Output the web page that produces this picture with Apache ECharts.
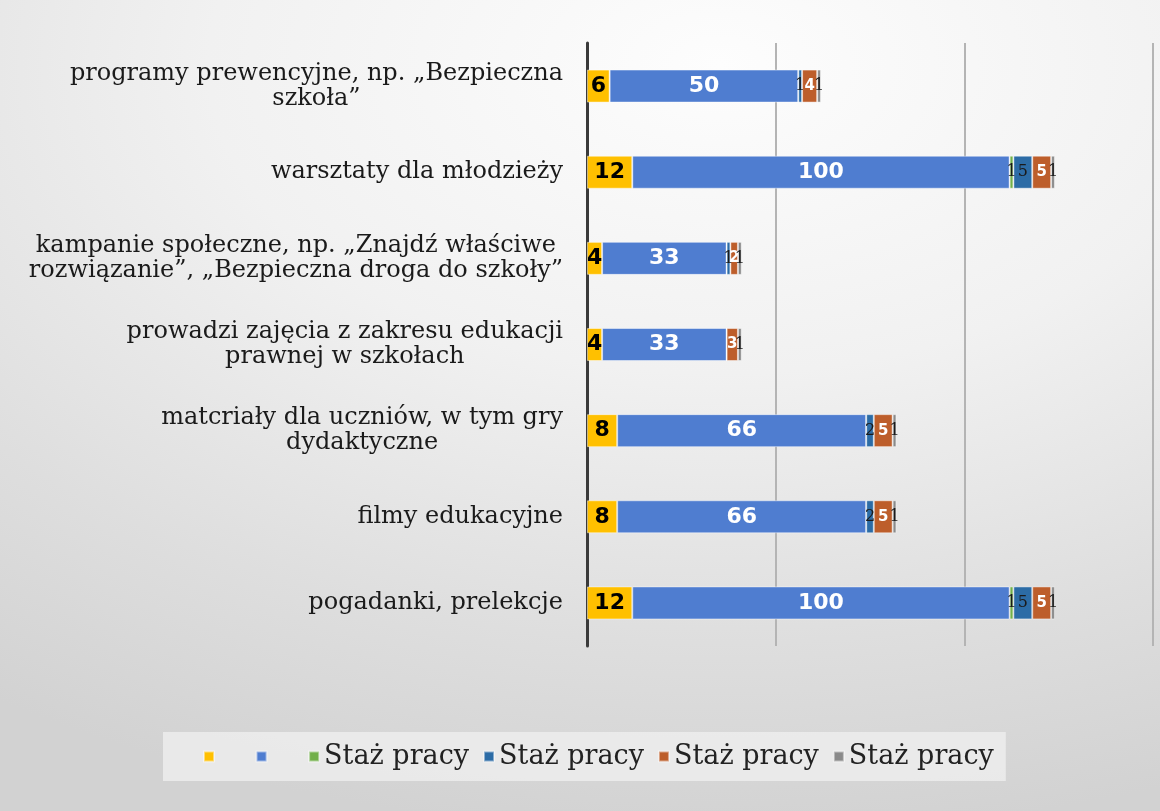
<!DOCTYPE html>
<html>
<head>
<meta charset="utf-8">
<script src="https://cdn.jsdelivr.net/npm/echarts@6/dist/echarts.min.js"></script>
<style>
  html, body { margin: 0; padding: 0; }
  body {
    width: 1160px; height: 811px; overflow: hidden;
    background: radial-gradient(ellipse 110% 95% at 62% 8%, #fdfdfd 0%, #f1f1f1 40%, #dedede 75%, #d2d2d2 100%);
  }
  #chart { width: 1160px; height: 811px; }
</style>
</head>
<body>
<div id="chart"></div>
<script>
  // categories, top to bottom
  const categories = [
    'programy prewencyjne, np. „Bezpieczna\nszkoła”',
    'warsztaty dla młodzieży',
    'kampanie społeczne, np. „Znajdź właściwe\nrozwiązanie”, „Bezpieczna droga do szkoły”',
    'prowadzi zajęcia z zakresu edukacji\nprawnej w szkołach',
    'matcriały dla uczniów, w tym gry\ndydaktyczne',
    'filmy edukacyjne',
    'pogadanki, prelekcje',
  ];

  const yellowValues = [6, 12, 4, 4, 8, 8, 12];
  const blueValues = [50, 100, 33, 33, 66, 66, 100];
  const greenValues = [0, 1, 0, 0, 0, 0, 1];
  const darkBlueValues = [1, 5, 1, 0, 2, 2, 5];
  const orangeValues = [4, 5, 2, 3, 5, 5, 5];
  const grayValues = [1, 1, 1, 1, 1, 1, 1];

  const xTicks = [0, 50, 100, 150];

  const SERIF = '"DejaVu Serif", "Liberation Serif", serif';
  const SANS = '"DejaVu Sans", Verdana, sans-serif';

  function hideZero(p) {
    return p.value ? String(p.value) : '';
  }

  const bigLabel = color => ({
    show: true,
    position: 'inside',
    color: color,
    fontFamily: SANS,
    fontWeight: 'bold',
    fontSize: 22,
    formatter: hideZero,
  });

  const smallLabel = {
    show: true,
    position: 'inside',
    color: '#1a1a1a',
    fontFamily: SERIF,
    fontSize: 16,
    formatter: hideZero,
  };

  const stackDefs = [
    { name: 'a', data: yellowValues, color: '#ffc000', label: bigLabel('#000') },
    { name: 'b', data: blueValues, color: '#4f7dd0', label: bigLabel('#fff') },
    { name: 'c', data: greenValues, color: '#72b04a', label: smallLabel },
    { name: 'd', data: darkBlueValues, color: '#2c6ca6', label: smallLabel },
    {
      name: 'e', data: orangeValues, color: '#bd5e2b',
      label: Object.assign({}, smallLabel, { color: '#fff', fontFamily: SANS, fontWeight: 'bold', fontSize: 15 }),
    },
    { name: 'f', data: grayValues, color: '#8a8a8a', label: smallLabel },
  ];

  // first two legend entries have no visible text in the original, only blank space
  const blank = '  \u2009';
  const legendText = { a: blank, b: blank, c: 'Staż pracy', d: 'Staż pracy', e: 'Staż pracy', f: 'Staż pracy' };

  const chart = echarts.init(document.getElementById('chart'));
  chart.setOption({
    animation: false,
    backgroundColor: 'transparent',
    grid: { left: 587, right: 7, top: 43, bottom: 165, containLabel: false },
    legend: {
      left: 163,
      top: 732,
      padding: [11, 12, 11, 40],
      backgroundColor: 'rgba(240,240,240,0.75)',
      itemWidth: 10,
      itemHeight: 10,
      itemGap: 14,
      icon: 'rect',
      textStyle: { fontFamily: SERIF, fontSize: 27, color: '#222' },
      formatter: name => legendText[name],
      data: stackDefs.map(s => s.name),
    },
    xAxis: {
      type: 'value',
      min: xTicks[0],
      max: xTicks[xTicks.length - 1],
      interval: 50,
      axisLabel: { show: false },
      axisLine: { show: false },
      axisTick: { show: false },
      splitLine: { show: true, lineStyle: { color: '#b4b4b4', width: 2 } },
    },
    yAxis: {
      type: 'category',
      inverse: true,
      data: categories,
      axisTick: { show: false },
      axisLine: { show: true, lineStyle: { color: '#3a3a3a', width: 3 } },
      axisLabel: {
        margin: 24,
        align: 'right',
        fontFamily: SERIF,
        fontSize: 24,
        lineHeight: 25,
        color: '#1a1a1a',
        formatter: v => v.split('\n').map(l => '{c|' + l + '}').join('\n'),
        rich: { c: { align: 'center', fontFamily: SERIF, fontSize: 24, lineHeight: 25, color: '#1a1a1a' } },
      },
    },
    series: stackDefs.map(s => ({
      name: s.name,
      type: 'bar',
      stack: 'total',
      barWidth: 33,
      data: s.data,
      itemStyle: { color: s.color, borderColor: 'rgba(255,255,255,0.45)', borderWidth: 1 },
      label: s.label,
      labelLayout: { hideOverlap: false },
    })),
  });
</script>
</body>
</html>
